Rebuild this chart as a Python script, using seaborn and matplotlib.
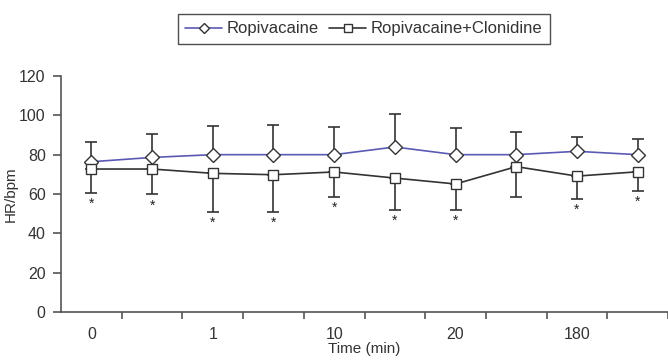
import matplotlib
matplotlib.use("Agg")
import matplotlib.pyplot as plt
from matplotlib.lines import Line2D
import seaborn as sns
import pandas as pd
import numpy as np

# ---- data ----
time_labels = ["0", "", "1", "", "10", "", "20", "", "180", ""]
ropi_mean = [76.4, 78.6, 80.0, 80.0, 80.0, 83.9, 80.0, 80.0, 81.7, 80.0]
ropi_sd = [10.0, 12.0, 14.6, 15.2, 14.0, 16.8, 13.7, 11.7, 7.1, 8.0]
clon_mean = [72.7, 72.7, 70.5, 69.8, 71.2, 68.1, 65.1, 73.9, 69.1, 71.3]
clon_sd = [12.0, 12.9, 19.5, 18.8, 12.6, 16.2, 13.2, 15.3, 11.7, 9.8]
significant = [True, True, True, True, True, True, True, False, True, True]
series_names = ["Ropivacaine", "Ropivacaine+Clonidine"]

pos = list(range(len(time_labels)))
df = pd.DataFrame({
    "pos": pos * 2,
    "HR": ropi_mean + clon_mean,
    "group": [series_names[0]] * len(pos) + [series_names[1]] * len(pos),
})

sns.set_style("white")
plt.rcParams["font.family"] = ["Liberation Sans", "DejaVu Sans"]

W, H = 668, 361
fig = plt.figure(figsize=(W / 100, H / 100), dpi=100)
ax = fig.add_axes([61 / W, (H - 312) / H, 607 / W, (312 - 76) / H])

line_cols = {series_names[0]: "#5a5ab4", series_names[1]: "#333333"}
sns.lineplot(data=df, x="pos", y="HR", hue="group", style="group",
             palette=line_cols, markers={series_names[0]: "D", series_names[1]: "s"},
             dashes=False, markersize=7, markerfacecolor="white",
             markeredgecolor="#333333", markeredgewidth=1.0, linewidth=1.2,
             legend=False, ax=ax, zorder=3)

# one-sided error bars
ax.errorbar(pos, ropi_mean, yerr=[np.zeros(len(pos)), ropi_sd], fmt="none",
            ecolor="#333333", elinewidth=1.2, capsize=4, capthick=1.2, zorder=1)
ax.errorbar(pos, clon_mean, yerr=[clon_sd, np.zeros(len(pos))], fmt="none",
            ecolor="#333333", elinewidth=1.2, capsize=4, capthick=1.2, zorder=1)

for x, m, s, sig in zip(pos, clon_mean, clon_sd, significant):
    if sig:
        ax.annotate("*", xy=(x, m - s), xytext=(0, -3), textcoords="offset points",
                    ha="center", va="top", fontsize=10, color="#222222")

ax.set_xlim(-0.5, -0.5 + 607 / 61)
ax.set_ylim(0, 120)
ax.set_yticks(range(0, 121, 20))
ax.set_xticks(pos)
ax.set_xticklabels(time_labels)
ax.set_xticks([p + 0.5 for p in pos], minor=True)
ax.tick_params(axis="x", which="major", length=0, pad=11, labelsize=11.5, colors="#333333")
ax.tick_params(axis="x", which="minor", length=5, width=1.2, direction="out",
               color="#555555", bottom=True)
ax.tick_params(axis="y", length=6, width=1.2, direction="out", color="#555555",
               pad=5, labelsize=11.5, labelcolor="#333333", left=True)
for sp in ["top", "right"]:
    ax.spines[sp].set_visible(False)
for sp in ["left", "bottom"]:
    ax.spines[sp].set_color("#555555")
    ax.spines[sp].set_linewidth(1.2)
ax.set_xlabel("Time (min)", fontsize=11, color="#333333", labelpad=0)
ax.set_ylabel("HR/bpm", fontsize=11, color="#333333", labelpad=1)
ax.grid(False)

handles = [
    Line2D([], [], color=line_cols[series_names[0]], marker="D", markersize=5,
           markerfacecolor="white", markeredgecolor="#333333", lw=1.2),
    Line2D([], [], color=line_cols[series_names[1]], marker="s", markersize=6,
           markerfacecolor="white", markeredgecolor="#333333", lw=1.2),
]
leg = fig.legend(handles, series_names, loc="center", bbox_to_anchor=(364 / W, 1 - 29 / H),
                 ncol=2, frameon=True, fancybox=False, fontsize=12, handlelength=2.2,
                 handletextpad=0.3, columnspacing=0.6, borderpad=0.45)
leg.get_frame().set_edgecolor("#222222")
leg.get_frame().set_linewidth(1.0)
for t in leg.get_texts():
    t.set_color("#333333")

fig.savefig("out.png", dpi=100)
